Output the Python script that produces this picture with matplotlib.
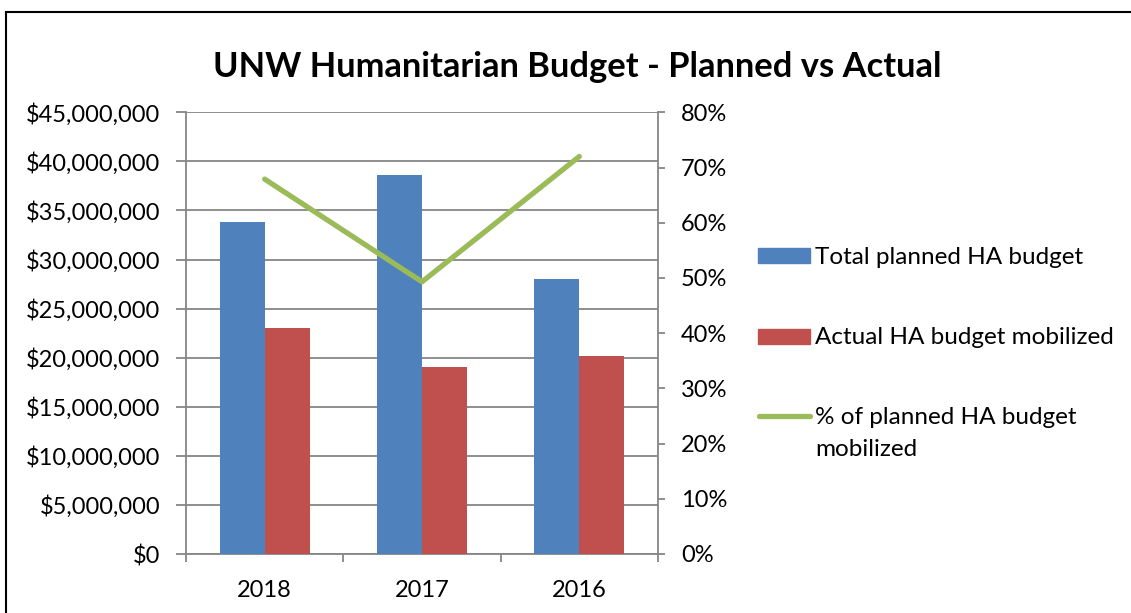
import matplotlib
matplotlib.use("Agg")
import matplotlib.pyplot as plt
import numpy as np
from matplotlib.ticker import FuncFormatter, MultipleLocator
from matplotlib.lines import Line2D
from matplotlib.patches import Rectangle

years = ["2018", "2017", "2016"]
planned = [33850000, 38610000, 27990000]
actual = [22990000, 19020000, 20140000]
pct = [67.9, 49.3, 72.0]

title = "UNW Humanitarian Budget - Planned vs Actual"
labels = ["Total planned HA budget", "Actual HA budget mobilized",
          "% of planned HA budget", "mobilized"]

blue = "#4F81BD"
red = "#C0504D"
green = "#9BBB59"
grey = "#868686"

plt.rcParams['font.family'] = ['Lato', 'DejaVu Sans']

W, H = 1131, 613
fig = plt.figure(figsize=(W / 100, H / 100), dpi=100)


def fx(px):
    return px / W


def fy(py):
    return 1 - py / H


# outer border (top and left edges visible)
fig.add_artist(Line2D([fx(6), 1.0], [fy(12), fy(12)], color="black", lw=1.5))
fig.add_artist(Line2D([fx(6), fx(6)], [0, fy(12)], color="black", lw=1.5))

ax = fig.add_axes([fx(186), 59 / H, (658 - 186) / W, (554 - 112.3) / H])
x = np.arange(len(years))
w = 1 / 3.5
ax.bar(x - w / 2, planned, width=w, color=blue, zorder=3)
ax.bar(x + w / 2, actual, width=w, color=red, zorder=3)
ax.set_xlim(-0.5, len(years) - 0.5)
ax.set_ylim(0, 45000000)
ax.yaxis.set_major_locator(MultipleLocator(5000000))
ax.yaxis.set_major_formatter(FuncFormatter(lambda v, p: "${:,.0f}".format(v)))
ax.grid(axis="y", color=grey, lw=1.3, zorder=0)
ax.set_axisbelow(True)
for s in ["top", "right"]:
    ax.spines[s].set_visible(False)
for s in ["left", "bottom"]:
    ax.spines[s].set_color(grey)
    ax.spines[s].set_linewidth(1.3)
ax.set_xticks(x)
ax.set_xticklabels(years)
ax.set_xticks(np.arange(-0.5, len(years)), minor=True)
ax.tick_params(axis="x", which="major", length=0, pad=19, labelsize=17)
ax.tick_params(axis="x", which="minor", length=6, width=1.3, color=grey)
ax.tick_params(axis="y", length=7, width=1.3, color=grey, labelsize=17, pad=11.5)

ax2 = ax.twinx()
ax2.plot(x, pct, color=green, lw=3.8, solid_capstyle="round", zorder=4)
ax2.set_ylim(0, 80)
ax2.yaxis.set_major_locator(MultipleLocator(10))
ax2.yaxis.set_major_formatter(FuncFormatter(lambda v, p: "{:.0f}%".format(v)))
for s in ["top", "left", "bottom"]:
    ax2.spines[s].set_visible(False)
ax2.spines["right"].set_color(grey)
ax2.spines["right"].set_linewidth(1.3)
ax2.tick_params(axis="y", length=5, width=1.3, color=grey, labelsize=17, pad=11.5)

fig.text(fx(577), fy(77), title, ha="center", va="baseline", fontsize=24.8, fontweight="bold")

# legend
fig.add_artist(Rectangle((fx(758), fy(263)), (810 - 758) / W, 15 / H, color=blue,
                         transform=fig.transFigure))
fig.add_artist(Rectangle((fx(758), fy(344)), (810 - 758) / W, 15 / H, color=red,
                         transform=fig.transFigure))
fig.add_artist(Line2D([fx(759), fx(810)], [fy(416), fy(416)], color=green, lw=3.8,
                      solid_capstyle="round"))
lfs = 17.5
fig.text(fx(815), fy(255), labels[0], ha="left", va="center_baseline", fontsize=lfs)
fig.text(fx(815), fy(336), labels[1], ha="left", va="center_baseline", fontsize=lfs)
fig.text(fx(815), fy(415), labels[2], ha="left", va="center_baseline", fontsize=lfs)
fig.text(fx(815), fy(448), labels[3], ha="left", va="center_baseline", fontsize=lfs)

fig.savefig("out.png", dpi=100)
